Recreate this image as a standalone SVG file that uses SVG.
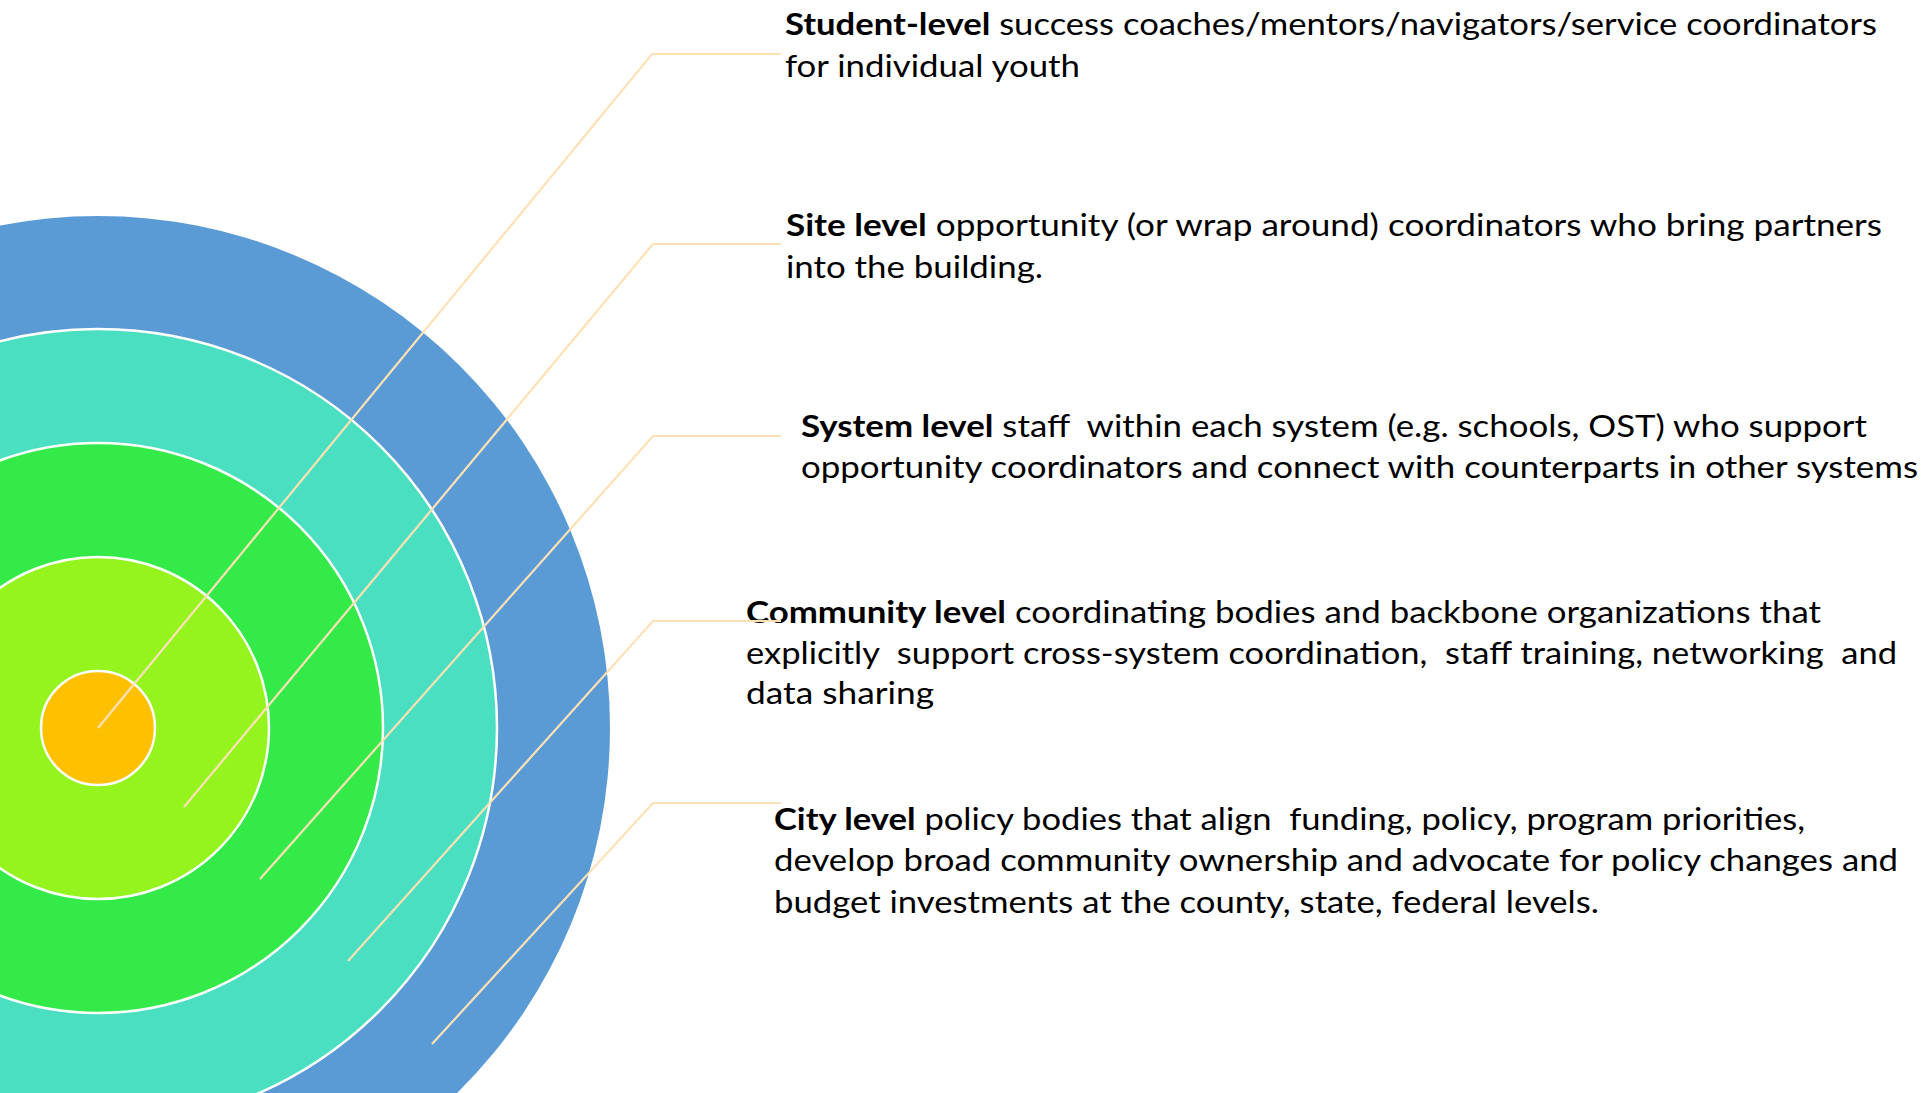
<svg xmlns="http://www.w3.org/2000/svg" width="1926" height="1093" viewBox="0 0 1926 1093">
<style>
.ring{stroke:#FFFFFF;stroke-width:2.5}
.t{font-family:Lato,"Open Sans","Liberation Sans",sans-serif;font-size:31px;fill:#000000;white-space:pre}
.b{font-weight:bold}
.c{fill:none;stroke:#FFE1B5;stroke-width:2.2;stroke-linejoin:miter}
</style>
<rect x="0" y="0" width="1926" height="1093" fill="#FFFFFF"/>
<g id="rings">
<circle id="city-ring" cx="98" cy="728" r="512" fill="#5B9BD5"/>
<circle id="community-ring" class="ring" cx="98" cy="728" r="399" fill="#4ADFC0"/>
<circle id="system-ring" class="ring" cx="98" cy="728" r="285" fill="#33EA48"/>
<circle id="site-ring" class="ring" cx="98" cy="728" r="171" fill="#95F41E"/>
<circle id="student-ring" class="ring" cx="98" cy="728" r="57" fill="#FFC000"/>
</g>
<g id="student-label">
<text class="t" x="785" y="35" textLength="1092" lengthAdjust="spacingAndGlyphs"><tspan class="b">Student-level</tspan> success coaches/mentors/navigators/service coordinators</text>
<text class="t" x="785" y="77" textLength="295" lengthAdjust="spacingAndGlyphs">for individual youth</text>
</g>
<g id="site-label">
<text class="t" x="786" y="236" textLength="1096" lengthAdjust="spacingAndGlyphs"><tspan class="b">Site level</tspan> opportunity (or wrap around) coordinators who bring partners</text>
<text class="t" x="786" y="278" textLength="257" lengthAdjust="spacingAndGlyphs">into the building.</text>
</g>
<g id="system-label">
<text class="t" x="801" y="437" textLength="1066" lengthAdjust="spacingAndGlyphs"><tspan class="b">System level</tspan> staff  within each system (e.g. schools, OST) who support</text>
<text class="t" x="801" y="478" textLength="1117" lengthAdjust="spacingAndGlyphs">opportunity coordinators and connect with counterparts in other systems</text>
</g>
<g id="community-label">
<text class="t" x="746" y="623" textLength="1075" lengthAdjust="spacingAndGlyphs"><tspan class="b">Community level</tspan> coordinating bodies and backbone organizations that</text>
<text class="t" x="746" y="664" textLength="1151" lengthAdjust="spacingAndGlyphs">explicitly  support cross-system coordination,  staff training, networking  and</text>
<text class="t" x="746" y="704" textLength="188" lengthAdjust="spacingAndGlyphs">data sharing</text>
</g>
<g id="city-label">
<text class="t" x="774" y="830" textLength="1031" lengthAdjust="spacingAndGlyphs"><tspan class="b">City level</tspan> policy bodies that align  funding, policy, program priorities,</text>
<text class="t" x="774" y="871" textLength="1124" lengthAdjust="spacingAndGlyphs">develop broad community ownership and advocate for policy changes and</text>
<text class="t" x="774" y="913" textLength="825" lengthAdjust="spacingAndGlyphs">budget investments at the county, state, federal levels.</text>
</g>
<g id="connectors">
<polyline class="c" points="98,728 652,54 781,54"/>
<polyline class="c" points="184,807 653,244 781,244"/>
<polyline class="c" points="260,879 653,436 781,436"/>
<polyline class="c" points="348,961 653,621 781,621"/>
<polyline class="c" points="432,1044 653,803 781,803"/>
</g>
</svg>
